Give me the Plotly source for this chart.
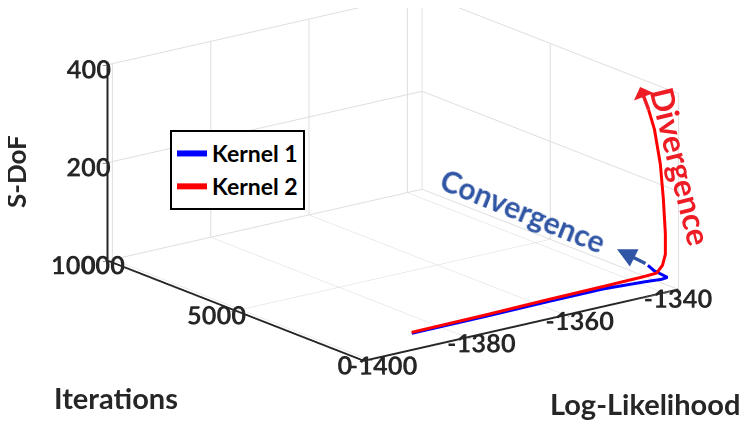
import plotly.graph_objects as go

# Kernel 1 trajectory (Log-Likelihood, Iterations, S-DoF)
ll_k1 = [-1391.3, -1376.0, -1363.6, -1351.7, -1343.0, -1339.4, -1338.0, -1338.0, -1338.0]
iter_k1 = [0, 40, 80, 120, 160, 200, 240, 760, 1000]
sdof_k1 = [34, 33, 33, 32, 26, 22, 22, 25, 31]

# Kernel 2 trajectory
ll_k2 = [-1391.3, -1376.0, -1363.6, -1351.7, -1343.4, -1340.4, -1339.0,
         -1338.2, -1338.0, -1338.2, -1338.6, -1339.6, -1340.6]
iter_k2 = [0, 40, 80, 120, 160, 200, 240, 280, 320, 360, 400, 440, 480]
sdof_k2 = [36, 36, 37, 37, 37, 37, 49, 69, 109, 180, 251, 324, 366]

x_ticks = [-1400, -1380, -1360, -1340]
x_labels = ["-1400", "-1380", "-1360", "-1340"]
y_ticks = [0, 5000, 10000]
y_labels = ["0", "5000", "10000"]
z_ticks = [0, 200, 400]
z_labels = ["0", "200", "400"]

# annotation anchors (data coords)
conv_pos = (-1353.0, 3000, 137)
div_pos = (-1338.0, 0, 248)
conv_arrow = (-1338.0, 2210, 39)
div_arrow = (ll_k2[-1], iter_k2[-1], sdof_k2[-1])

FONT = "Lato"
AX_COL = "#262626"

fig = go.Figure()
fig.add_trace(go.Scatter3d(
    x=ll_k1, y=iter_k1, z=sdof_k1,
    mode="lines",
    line=dict(color="#0000ff", width=6),
    name="Kernel 1"
))
fig.add_trace(go.Scatter3d(
    x=ll_k2, y=iter_k2, z=sdof_k2,
    mode="lines",
    line=dict(color="#ff0000", width=6),
    name="Kernel 2"
))

axis_common = dict(
    showbackground=False,
    showgrid=True,
    gridcolor="#dedede",
    gridwidth=2,
    zeroline=False,
    showline=True,
    linecolor=AX_COL,
    linewidth=4,
    ticks="outside",
    tickcolor=AX_COL,
    ticklen=6,
    tickangle=0,
    tickfont=dict(family=FONT, size=17.5, color=AX_COL, weight="bold"),
    showspikes=False,
    title=dict(text=""),
)
title_font = dict(family=FONT, size=29, color=AX_COL, weight="bold")

fig.update_layout(
    width=748, height=423,
    margin=dict(l=0, r=0, t=0, b=0),
    paper_bgcolor="white",
    font=dict(family=FONT, color=AX_COL),
    scene=dict(
        domain=dict(x=[0.03, 1.0], y=[0, 1]),
        xaxis=dict(axis_common, range=[-1401, -1337], tickvals=x_ticks, ticktext=x_labels),
        yaxis=dict(axis_common, range=[0, 10000], tickvals=y_ticks, ticktext=y_labels),
        zaxis=dict(axis_common, range=[0, 400], tickvals=z_ticks, ticktext=z_labels),
        aspectmode="manual",
        aspectratio=dict(x=1.87, y=2.0, z=0.97),
        camera=dict(
            eye=dict(x=-0.583 * 2, y=-0.765 * 2, z=0.39),
            up=dict(x=0, y=0, z=1),
            center=dict(x=0, y=0, z=-0.21),
            projection=dict(type="orthographic"),
        ),
        annotations=[
            dict(x=conv_pos[0], y=conv_pos[1], z=conv_pos[2], text="Convergence",
                 textangle=22, showarrow=False,
                 font=dict(family=FONT, size=30, color="#2f55a4", weight="bold")),
            dict(x=div_pos[0], y=div_pos[1], z=div_pos[2], text="Divergence",
                 textangle=76, showarrow=False, xshift=8, yshift=3,
                 font=dict(family=FONT, size=32, color="#ee1c25", weight="bold")),
            dict(x=conv_arrow[0], y=conv_arrow[1], z=conv_arrow[2], text="",
                 showarrow=True, ax=30, ay=15, arrowhead=2, arrowsize=1.1,
                 arrowwidth=3.5, arrowcolor="#2f55a4"),
            dict(x=div_arrow[0], y=div_arrow[1], z=div_arrow[2], text="",
                 showarrow=True, ax=-9, ay=-24, arrowside="start", arrowhead=2,
                 arrowsize=1.1, arrowwidth=3.5, arrowcolor="#ee1c25"),
        ],
    ),
    annotations=[
        dict(text="Log-Likelihood", x=637 / 748, y=1 - 395 / 423, xref="paper", yref="paper",
             xanchor="center", yanchor="middle", showarrow=False, font=title_font),
        dict(text="Iterations", x=108 / 748, y=1 - 389 / 423, xref="paper", yref="paper",
             xanchor="center", yanchor="middle", showarrow=False, font=title_font),
        dict(text="S-DoF", x=8 / 748, y=1 - 164 / 423, xref="paper", yref="paper",
             xanchor="center", yanchor="middle", textangle=-90, showarrow=False,
             font=dict(title_font, size=26)),
    ],
    showlegend=True,
    legend=dict(
        x=162 / 748, y=1 - 122 / 423, xanchor="left", yanchor="top",
        bgcolor="white", bordercolor="#000000", borderwidth=2,
        font=dict(family=FONT, size=23, color="#000000", weight="bold"),
    ),
)

fig.write_html("out.html")
